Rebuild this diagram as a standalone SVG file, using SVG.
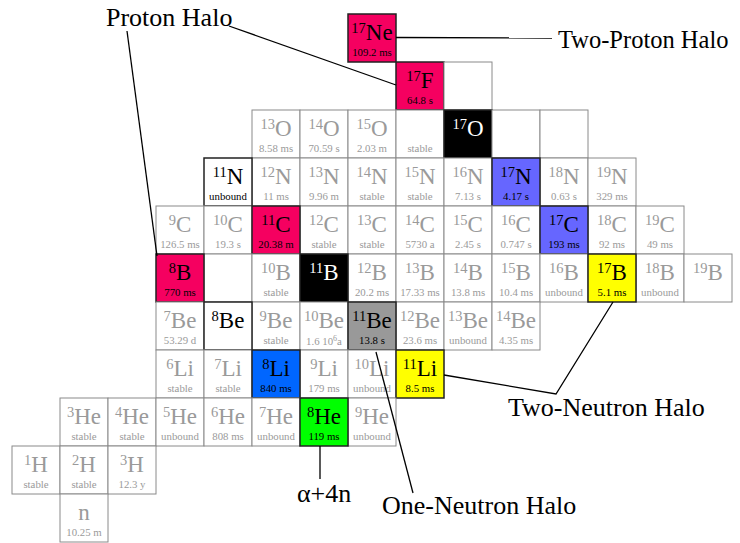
<svg xmlns="http://www.w3.org/2000/svg" width="740" height="543" viewBox="0 0 740 543">
<style>
.c rect{fill:#fff;stroke:#8a8a8a;stroke-width:1}
.c text{font-family:"Liberation Serif","Times New Roman",serif;fill:#9a9a9a;text-anchor:middle}
.s{font-size:23px}
.p{font-size:14.5px}
.t{font-size:10.8px}
.e{font-size:8px}
.h rect{stroke:#222;stroke-width:1.5}
.h text{fill:#000}
.k rect{fill:#000}
.k text{fill:#fff}
.pk rect{fill:#f50060}
.bl rect{fill:#6666ff}
.b2 rect{fill:#0066ff}
.ye rect{fill:#ffff00}
.gr rect{fill:#00ff00}
.gy rect{fill:#999}
.lbl{font-family:"Liberation Serif","Times New Roman",serif;font-size:26px;fill:#000}
.conn line,.conn polyline{stroke:#000;stroke-width:1.3;fill:none}
</style>
<g id="cells">
<!-- Ne row -->
<g id="Ne17" class="c h pk" transform="translate(348,14)"><rect width="48" height="48"/><text class="s" x="24" y="26"><tspan class="p" dy="-7">17</tspan><tspan dy="7">Ne</tspan></text><text class="t" x="24" y="42">109.2 ms</text></g>
<!-- F row -->
<g id="F17" class="c h pk" transform="translate(396,62)"><rect width="48" height="48"/><text class="s" x="24" y="26"><tspan class="p" dy="-7">17</tspan><tspan dy="7">F</tspan></text><text class="t" x="24" y="42">64.8 s</text></g>
<g id="F18" class="c" transform="translate(444,62)"><rect width="48" height="48"/></g>
<!-- O row -->
<g id="O13" class="c" transform="translate(252,110)"><rect width="48" height="48"/><text class="s" x="24" y="26"><tspan class="p" dy="-7">13</tspan><tspan dy="7">O</tspan></text><text class="t" x="24" y="42">8.58 ms</text></g>
<g id="O14" class="c" transform="translate(300,110)"><rect width="48" height="48"/><text class="s" x="24" y="26"><tspan class="p" dy="-7">14</tspan><tspan dy="7">O</tspan></text><text class="t" x="24" y="42">70.59 s</text></g>
<g id="O15" class="c" transform="translate(348,110)"><rect width="48" height="48"/><text class="s" x="24" y="26"><tspan class="p" dy="-7">15</tspan><tspan dy="7">O</tspan></text><text class="t" x="24" y="42">2.03 m</text></g>
<g id="O16" class="c" transform="translate(396,110)"><rect width="48" height="48"/><text class="t" x="24" y="42">stable</text></g>
<g id="O17" class="c h k" transform="translate(444,110)"><rect width="48" height="48"/><text class="s" x="24" y="26"><tspan class="p" dy="-7">17</tspan><tspan dy="7">O</tspan></text></g>
<g id="O18" class="c" transform="translate(492,110)"><rect width="48" height="48"/></g>
<g id="O19" class="c" transform="translate(540,110)"><rect width="48" height="48"/></g>
<!-- N row -->
<g id="N12" class="c" transform="translate(252,158)"><rect width="48" height="48"/><text class="s" x="24" y="26"><tspan class="p" dy="-7">12</tspan><tspan dy="7">N</tspan></text><text class="t" x="24" y="42">11 ms</text></g>
<g id="N13" class="c" transform="translate(300,158)"><rect width="48" height="48"/><text class="s" x="24" y="26"><tspan class="p" dy="-7">13</tspan><tspan dy="7">N</tspan></text><text class="t" x="24" y="42">9.96 m</text></g>
<g id="N14" class="c" transform="translate(348,158)"><rect width="48" height="48"/><text class="s" x="24" y="26"><tspan class="p" dy="-7">14</tspan><tspan dy="7">N</tspan></text><text class="t" x="24" y="42">stable</text></g>
<g id="N15" class="c" transform="translate(396,158)"><rect width="48" height="48"/><text class="s" x="24" y="26"><tspan class="p" dy="-7">15</tspan><tspan dy="7">N</tspan></text><text class="t" x="24" y="42">stable</text></g>
<g id="N16" class="c" transform="translate(444,158)"><rect width="48" height="48"/><text class="s" x="24" y="26"><tspan class="p" dy="-7">16</tspan><tspan dy="7">N</tspan></text><text class="t" x="24" y="42">7.13 s</text></g>
<g id="N18" class="c" transform="translate(540,158)"><rect width="48" height="48"/><text class="s" x="24" y="26"><tspan class="p" dy="-7">18</tspan><tspan dy="7">N</tspan></text><text class="t" x="24" y="42">0.63 s</text></g>
<g id="N19" class="c" transform="translate(588,158)"><rect width="48" height="48"/><text class="s" x="24" y="26"><tspan class="p" dy="-7">19</tspan><tspan dy="7">N</tspan></text><text class="t" x="24" y="42">329 ms</text></g>
<g id="N11" class="c h" transform="translate(204,158)"><rect width="48" height="48"/><text class="s" x="24" y="26"><tspan class="p" dy="-7">11</tspan><tspan dy="7">N</tspan></text><text class="t" x="24" y="42">unbound</text></g>
<g id="N17" class="c h bl" transform="translate(492,158)"><rect width="48" height="48"/><text class="s" x="24" y="26"><tspan class="p" dy="-7">17</tspan><tspan dy="7">N</tspan></text><text class="t" x="24" y="42">4.17 s</text></g>
<!-- C row -->
<g id="C9" class="c" transform="translate(156,206)"><rect width="48" height="48"/><text class="s" x="24" y="26"><tspan class="p" dy="-7">9</tspan><tspan dy="7">C</tspan></text><text class="t" x="24" y="42">126.5 ms</text></g>
<g id="C10" class="c" transform="translate(204,206)"><rect width="48" height="48"/><text class="s" x="24" y="26"><tspan class="p" dy="-7">10</tspan><tspan dy="7">C</tspan></text><text class="t" x="24" y="42">19.3 s</text></g>
<g id="C12" class="c" transform="translate(300,206)"><rect width="48" height="48"/><text class="s" x="24" y="26"><tspan class="p" dy="-7">12</tspan><tspan dy="7">C</tspan></text><text class="t" x="24" y="42">stable</text></g>
<g id="C13" class="c" transform="translate(348,206)"><rect width="48" height="48"/><text class="s" x="24" y="26"><tspan class="p" dy="-7">13</tspan><tspan dy="7">C</tspan></text><text class="t" x="24" y="42">stable</text></g>
<g id="C14" class="c" transform="translate(396,206)"><rect width="48" height="48"/><text class="s" x="24" y="26"><tspan class="p" dy="-7">14</tspan><tspan dy="7">C</tspan></text><text class="t" x="24" y="42">5730 a</text></g>
<g id="C15" class="c" transform="translate(444,206)"><rect width="48" height="48"/><text class="s" x="24" y="26"><tspan class="p" dy="-7">15</tspan><tspan dy="7">C</tspan></text><text class="t" x="24" y="42">2.45 s</text></g>
<g id="C16" class="c" transform="translate(492,206)"><rect width="48" height="48"/><text class="s" x="24" y="26"><tspan class="p" dy="-7">16</tspan><tspan dy="7">C</tspan></text><text class="t" x="24" y="42">0.747 s</text></g>
<g id="C18" class="c" transform="translate(588,206)"><rect width="48" height="48"/><text class="s" x="24" y="26"><tspan class="p" dy="-7">18</tspan><tspan dy="7">C</tspan></text><text class="t" x="24" y="42">92 ms</text></g>
<g id="C19" class="c" transform="translate(636,206)"><rect width="48" height="48"/><text class="s" x="24" y="26"><tspan class="p" dy="-7">19</tspan><tspan dy="7">C</tspan></text><text class="t" x="24" y="42">49 ms</text></g>
<g id="C11" class="c h pk" transform="translate(252,206)"><rect width="48" height="48"/><text class="s" x="24" y="26"><tspan class="p" dy="-7">11</tspan><tspan dy="7">C</tspan></text><text class="t" x="24" y="42">20.38 m</text></g>
<g id="C17" class="c h bl" transform="translate(540,206)"><rect width="48" height="48"/><text class="s" x="24" y="26"><tspan class="p" dy="-7">17</tspan><tspan dy="7">C</tspan></text><text class="t" x="24" y="42">193 ms</text></g>
<!-- B row -->
<g id="B9" class="c" transform="translate(204,254)"><rect width="48" height="48"/></g>
<g id="B10" class="c" transform="translate(252,254)"><rect width="48" height="48"/><text class="s" x="24" y="26"><tspan class="p" dy="-7">10</tspan><tspan dy="7">B</tspan></text><text class="t" x="24" y="42">stable</text></g>
<g id="B12" class="c" transform="translate(348,254)"><rect width="48" height="48"/><text class="s" x="24" y="26"><tspan class="p" dy="-7">12</tspan><tspan dy="7">B</tspan></text><text class="t" x="24" y="42">20.2 ms</text></g>
<g id="B13" class="c" transform="translate(396,254)"><rect width="48" height="48"/><text class="s" x="24" y="26"><tspan class="p" dy="-7">13</tspan><tspan dy="7">B</tspan></text><text class="t" x="24" y="42">17.33 ms</text></g>
<g id="B14" class="c" transform="translate(444,254)"><rect width="48" height="48"/><text class="s" x="24" y="26"><tspan class="p" dy="-7">14</tspan><tspan dy="7">B</tspan></text><text class="t" x="24" y="42">13.8 ms</text></g>
<g id="B15" class="c" transform="translate(492,254)"><rect width="48" height="48"/><text class="s" x="24" y="26"><tspan class="p" dy="-7">15</tspan><tspan dy="7">B</tspan></text><text class="t" x="24" y="42">10.4 ms</text></g>
<g id="B16" class="c" transform="translate(540,254)"><rect width="48" height="48"/><text class="s" x="24" y="26"><tspan class="p" dy="-7">16</tspan><tspan dy="7">B</tspan></text><text class="t" x="24" y="42">unbound</text></g>
<g id="B18" class="c" transform="translate(636,254)"><rect width="48" height="48"/><text class="s" x="24" y="26"><tspan class="p" dy="-7">18</tspan><tspan dy="7">B</tspan></text><text class="t" x="24" y="42">unbound</text></g>
<g id="B19" class="c" transform="translate(684,254)"><rect width="48" height="48"/><text class="s" x="24" y="26"><tspan class="p" dy="-7">19</tspan><tspan dy="7">B</tspan></text></g>
<g id="B8" class="c h pk" transform="translate(156,254)"><rect width="48" height="48"/><text class="s" x="24" y="26"><tspan class="p" dy="-7">8</tspan><tspan dy="7">B</tspan></text><text class="t" x="24" y="42">770 ms</text></g>
<g id="B11" class="c h k" transform="translate(300,254)"><rect width="48" height="48"/><text class="s" x="24" y="26"><tspan class="p" dy="-7">11</tspan><tspan dy="7">B</tspan></text></g>
<g id="B17" class="c h ye" transform="translate(588,254)"><rect width="48" height="48"/><text class="s" x="24" y="26"><tspan class="p" dy="-7">17</tspan><tspan dy="7">B</tspan></text><text class="t" x="24" y="42">5.1 ms</text></g>
<!-- Be row -->
<g id="Be7" class="c" transform="translate(156,302)"><rect width="48" height="48"/><text class="s" x="24" y="26"><tspan class="p" dy="-7">7</tspan><tspan dy="7">Be</tspan></text><text class="t" x="24" y="42">53.29 d</text></g>
<g id="Be9" class="c" transform="translate(252,302)"><rect width="48" height="48"/><text class="s" x="24" y="26"><tspan class="p" dy="-7">9</tspan><tspan dy="7">Be</tspan></text><text class="t" x="24" y="42">stable</text></g>
<g id="Be10" class="c" transform="translate(300,302)"><rect width="48" height="48"/><text class="s" x="24" y="26"><tspan class="p" dy="-7">10</tspan><tspan dy="7">Be</tspan></text><text class="t" x="24" y="43">1.6 10<tspan class="e" dy="-4">6</tspan><tspan dy="4">a</tspan></text></g>
<g id="Be12" class="c" transform="translate(396,302)"><rect width="48" height="48"/><text class="s" x="24" y="26"><tspan class="p" dy="-7">12</tspan><tspan dy="7">Be</tspan></text><text class="t" x="24" y="42">23.6 ms</text></g>
<g id="Be13" class="c" transform="translate(444,302)"><rect width="48" height="48"/><text class="s" x="24" y="26"><tspan class="p" dy="-7">13</tspan><tspan dy="7">Be</tspan></text><text class="t" x="24" y="42">unbound</text></g>
<g id="Be14" class="c" transform="translate(492,302)"><rect width="48" height="48"/><text class="s" x="24" y="26"><tspan class="p" dy="-7">14</tspan><tspan dy="7">Be</tspan></text><text class="t" x="24" y="42">4.35 ms</text></g>
<g id="Be8" class="c h" transform="translate(204,302)"><rect width="48" height="48"/><text class="s" x="24" y="26"><tspan class="p" dy="-7">8</tspan><tspan dy="7">Be</tspan></text></g>
<g id="Be11" class="c h gy" transform="translate(348,302)"><rect width="48" height="48"/><text class="s" x="24" y="26"><tspan class="p" dy="-7">11</tspan><tspan dy="7">Be</tspan></text><text class="t" x="24" y="42">13.8 s</text></g>
<!-- Li row -->
<g id="Li6" class="c" transform="translate(156,350)"><rect width="48" height="48"/><text class="s" x="24" y="26"><tspan class="p" dy="-7">6</tspan><tspan dy="7">Li</tspan></text><text class="t" x="24" y="42">stable</text></g>
<g id="Li7" class="c" transform="translate(204,350)"><rect width="48" height="48"/><text class="s" x="24" y="26"><tspan class="p" dy="-7">7</tspan><tspan dy="7">Li</tspan></text><text class="t" x="24" y="42">stable</text></g>
<g id="Li9" class="c" transform="translate(300,350)"><rect width="48" height="48"/><text class="s" x="24" y="26"><tspan class="p" dy="-7">9</tspan><tspan dy="7">Li</tspan></text><text class="t" x="24" y="42">179 ms</text></g>
<g id="Li10" class="c" transform="translate(348,350)"><rect width="48" height="48"/><text class="s" x="24" y="26"><tspan class="p" dy="-7">10</tspan><tspan dy="7">Li</tspan></text><text class="t" x="24" y="42">unbound</text></g>
<g id="Li8" class="c h b2" transform="translate(252,350)"><rect width="48" height="48"/><text class="s" x="24" y="26"><tspan class="p" dy="-7">8</tspan><tspan dy="7">Li</tspan></text><text class="t" x="24" y="42">840 ms</text></g>
<g id="Li11" class="c h ye" transform="translate(396,350)"><rect width="48" height="48"/><text class="s" x="24" y="26"><tspan class="p" dy="-7">11</tspan><tspan dy="7">Li</tspan></text><text class="t" x="24" y="42">8.5 ms</text></g>
<!-- He row -->
<g id="He3" class="c" transform="translate(60,398)"><rect width="48" height="48"/><text class="s" x="24" y="26"><tspan class="p" dy="-7">3</tspan><tspan dy="7">He</tspan></text><text class="t" x="24" y="42">stable</text></g>
<g id="He4" class="c" transform="translate(108,398)"><rect width="48" height="48"/><text class="s" x="24" y="26"><tspan class="p" dy="-7">4</tspan><tspan dy="7">He</tspan></text><text class="t" x="24" y="42">stable</text></g>
<g id="He5" class="c" transform="translate(156,398)"><rect width="48" height="48"/><text class="s" x="24" y="26"><tspan class="p" dy="-7">5</tspan><tspan dy="7">He</tspan></text><text class="t" x="24" y="42">unbound</text></g>
<g id="He6" class="c" transform="translate(204,398)"><rect width="48" height="48"/><text class="s" x="24" y="26"><tspan class="p" dy="-7">6</tspan><tspan dy="7">He</tspan></text><text class="t" x="24" y="42">808 ms</text></g>
<g id="He7" class="c" transform="translate(252,398)"><rect width="48" height="48"/><text class="s" x="24" y="26"><tspan class="p" dy="-7">7</tspan><tspan dy="7">He</tspan></text><text class="t" x="24" y="42">unbound</text></g>
<g id="He9" class="c" transform="translate(348,398)"><rect width="48" height="48"/><text class="s" x="24" y="26"><tspan class="p" dy="-7">9</tspan><tspan dy="7">He</tspan></text><text class="t" x="24" y="42">unbound</text></g>
<g id="He8" class="c h gr" transform="translate(300,398)"><rect width="48" height="48"/><text class="s" x="24" y="26"><tspan class="p" dy="-7">8</tspan><tspan dy="7">He</tspan></text><text class="t" x="24" y="42">119 ms</text></g>
<!-- H row -->
<g id="H1" class="c" transform="translate(12,446)"><rect width="48" height="48"/><text class="s" x="24" y="26"><tspan class="p" dy="-7">1</tspan><tspan dy="7">H</tspan></text><text class="t" x="24" y="42">stable</text></g>
<g id="H2" class="c" transform="translate(60,446)"><rect width="48" height="48"/><text class="s" x="24" y="26"><tspan class="p" dy="-7">2</tspan><tspan dy="7">H</tspan></text><text class="t" x="24" y="42">stable</text></g>
<g id="H3" class="c" transform="translate(108,446)"><rect width="48" height="48"/><text class="s" x="24" y="26"><tspan class="p" dy="-7">3</tspan><tspan dy="7">H</tspan></text><text class="t" x="24" y="42">12.3 y</text></g>
<!-- n -->
<g id="n1" class="c" transform="translate(60,494)"><rect width="48" height="48"/><text class="s" x="24" y="26">n</text><text class="t" x="24" y="42">10.25 m</text></g>
</g>
<g id="connectors" class="conn">
<line x1="127" y1="31" x2="157" y2="256"/>
<line x1="229" y1="26" x2="396" y2="85"/>
<line x1="396" y1="37.5" x2="552" y2="38"/>
<polyline points="444,375 556,394 613,302"/>
<line x1="376" y1="352" x2="413" y2="493"/>
<line x1="320" y1="446" x2="320" y2="479"/>
</g>
<g id="labels">
<text id="lbl-proton" class="lbl" x="106" y="26">Proton Halo</text>
<text id="lbl-twoproton" class="lbl" x="558" y="48" style="font-size:24.5px">Two-Proton Halo</text>
<text id="lbl-twoneutron" class="lbl" x="508" y="416">Two-Neutron Halo</text>
<text id="lbl-oneneutron" class="lbl" x="382" y="514">One-Neutron Halo</text>
<text id="lbl-alpha" class="lbl" x="297" y="502">α+4n</text>
</g>
</svg>
